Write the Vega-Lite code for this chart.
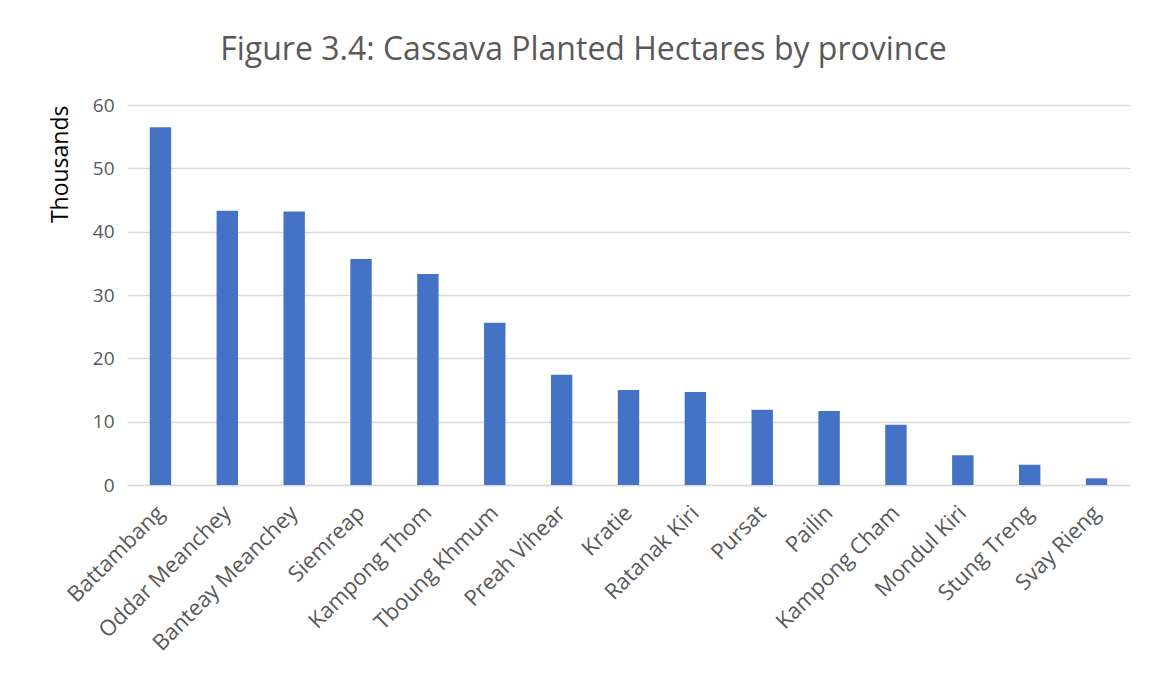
{
  "$schema": "https://vega.github.io/schema/vega-lite/v6.json",
  "autosize": {"type": "none"},
  "width": 1003,
  "height": 380,
  "padding": {"left": 127, "top": 105, "right": 22, "bottom": 190},
  "background": "white",
  "title": {
    "text": "Figure 3.4: Cassava Planted Hectares by province",
    "font": "Open Sans",
    "fontSize": 32,
    "fontWeight": "normal",
    "color": "#595959",
    "anchor": "middle",
    "dx": -45,
    "offset": 29
  },
  "data": {
    "values": [
      {"province": "Battambang", "value": 56.5},
      {"province": "Oddar Meanchey", "value": 43.3},
      {"province": "Banteay Meanchey", "value": 43.2},
      {"province": "Siemreap", "value": 35.7},
      {"province": "Kampong Thom", "value": 33.3},
      {"province": "Tboung Khmum", "value": 25.6},
      {"province": "Preah Vihear", "value": 17.4},
      {"province": "Kratie", "value": 15.0},
      {"province": "Ratanak Kiri", "value": 14.7},
      {"province": "Pursat", "value": 11.9},
      {"province": "Pailin", "value": 11.7},
      {"province": "Kampong Cham", "value": 9.5},
      {"province": "Mondul Kiri", "value": 4.7},
      {"province": "Stung Treng", "value": 3.2},
      {"province": "Svay Rieng", "value": 1.05}
    ]
  },
  "mark": {"type": "bar", "color": "#4472C4"},
  "encoding": {
    "x": {
      "field": "province",
      "type": "nominal",
      "sort": null,
      "scale": {"paddingInner": 0.68, "paddingOuter": 0.34},
      "axis": {
        "title": null,
        "labelAngle": -45,
        "labelAlign": "right",
        "labelBaseline": "middle",
        "labelFont": "Open Sans",
        "labelFontSize": 22,
        "labelColor": "#595959",
        "labelPadding": 24,
        "labelOverlap": false,
        "labelLimit": 400,
        "ticks": false,
        "domainColor": "#d9d9d9",
        "domainWidth": 1.5
      }
    },
    "y": {
      "field": "value",
      "type": "quantitative",
      "scale": {"domain": [0, 60], "nice": false},
      "axis": {
        "title": "Thousands",
        "titleFont": "Open Sans",
        "titleFontSize": 23,
        "titleFontWeight": "normal",
        "titleColor": "#000000",
        "titlePadding": 20,
        "titleAnchor": "end",
        "values": [0, 10, 20, 30, 40, 50, 60],
        "labelFont": "Open Sans",
        "labelFontSize": 19,
        "labelColor": "#595959",
        "labelPadding": 13,
        "ticks": false,
        "domain": false,
        "gridColor": "#d9d9d9",
        "gridWidth": 1.5
      }
    }
  },
  "config": {"view": {"stroke": null}}
}
